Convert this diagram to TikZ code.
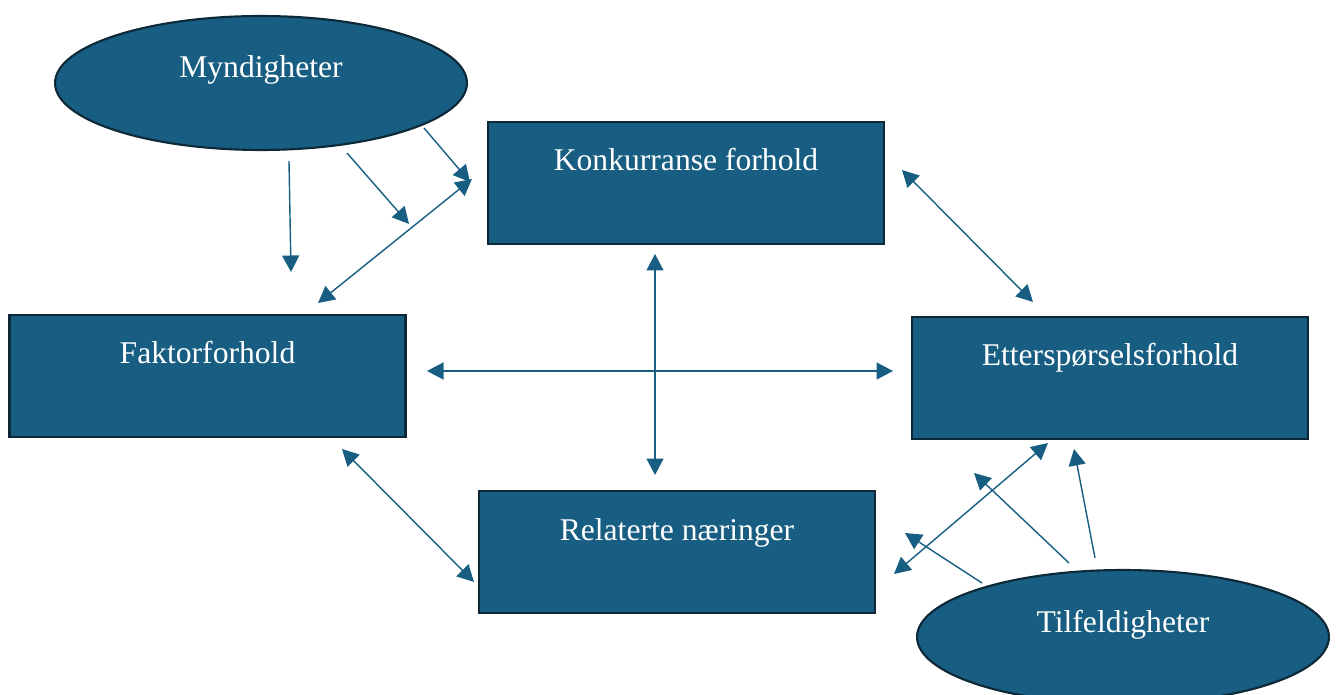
\documentclass[tikz,border=0pt]{standalone}
\usepackage{fontspec}
\setmainfont{Liberation Serif}
\usetikzlibrary{arrows.meta,shapes.geometric}
\definecolor{petrol}{HTML}{175E82}
\definecolor{petroldark}{HTML}{0D2837}

\begin{document}
\begin{tikzpicture}[x=0.02cm,y=-0.02cm,>={Triangle[length=0.33cm,width=0.34cm]},font=\fontsize{18}{21}\selectfont]
\tikzstyle{box}=[draw=petroldark,line width=1.2pt,fill=petrol,text=white,inner sep=0pt,minimum width=7.92cm,minimum height=2.44cm,text height=0.98cm,text depth=1.46cm]
\tikzstyle{oval}=[ellipse,draw=petroldark,line width=1.2pt,fill=petrol,text=white,minimum width=8.24cm,minimum height=2.68cm,text height=0.3cm,text depth=0.5cm]
\tikzstyle{link}=[draw=petrol,line width=0.8pt]
\useasboundingbox (0,0) rectangle (1336,695);
\node[oval] (myn) at (261,83) {Myndigheter};
\node[box] (kon) at (686,183) {Konkurranse forhold};
\node[box] (fak) at (207.5,376) {Faktorforhold};
\node[box] (ett) at (1110,378) {Etterspørselsforhold};
\node[box] (rel) at (677,552) {Relaterte næringer};
\node[oval] (til) at (1123,637) {Tilfeldigheter};
\coordinate (myn-a) at (289,161); \coordinate (fak-a) at (291,272);
\coordinate (myn-b) at (347,153); \coordinate (mid-b) at (409,224);
\coordinate (myn-c) at (424,128); \coordinate (kon-c) at (470,182);
\coordinate (fak-d) at (318,303); \coordinate (kon-d) at (472,179);
\coordinate (kon-e) at (902,170); \coordinate (ett-e) at (1033,302);
\coordinate (fak-f) at (427,371); \coordinate (ett-f) at (893,371);
\coordinate (kon-g) at (655,254); \coordinate (rel-g) at (655,475);
\coordinate (fak-h) at (342,449); \coordinate (rel-h) at (474,582);
\coordinate (rel-i) at (894,574); \coordinate (ett-i) at (1048,443);
\coordinate (til-j) at (982,583); \coordinate (rel-j) at (905,533);
\coordinate (til-k) at (1069,563); \coordinate (ett-k) at (974,473);
\coordinate (til-l) at (1095,558); \coordinate (ett-l) at (1074,449);
\draw[link,->] (myn-a) -- (fak-a);
\draw[link,->] (myn-b) -- (mid-b);
\draw[link,->] (myn-c) -- (kon-c);
\draw[link,<->] (fak-d) -- (kon-d);
\draw[link,<->] (kon-e) -- (ett-e);
\draw[link,<->] (fak-f) -- (ett-f);
\draw[link,<->] (kon-g) -- (rel-g);
\draw[link,<->] (fak-h) -- (rel-h);
\draw[link,<->] (rel-i) -- (ett-i);
\draw[link,->] (til-j) -- (rel-j);
\draw[link,->] (til-k) -- (ett-k);
\draw[link,->] (til-l) -- (ett-l);
\end{tikzpicture}
\end{document}
